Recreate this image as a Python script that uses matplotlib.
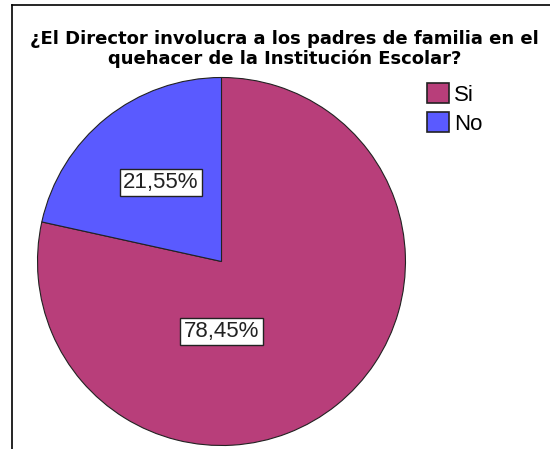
import matplotlib
matplotlib.use('Agg')
import matplotlib.pyplot as plt
from matplotlib.lines import Line2D

labels = ['Si', 'No']
values = [78.45, 21.55]
colors = ['#b83e7a', '#5a5aff']
pct_text = ['78,45%', '21,55%']
# label positions inside the pie (in radius units)
label_pos = [(0.0, -0.38), (-0.33, 0.43)]

fig = plt.figure(figsize=(5.5, 4.49), dpi=100)
fig.patch.set_facecolor('white')

# frame lines
fig.lines.extend([
    Line2D([12/550, 12/550], [0, 1 - 5/449], transform=fig.transFigure, color='black', lw=1.2),
    Line2D([12/550, 1], [1 - 5/449, 1 - 5/449], transform=fig.transFigure, color='black', lw=1.2),
])

fig.text(0.517, 1 - 49/449, '¿El Director involucra a los padres de familia en el\nquehacer de la Institución Escolar?',
         ha='center', va='center', fontsize=13, fontweight='bold', linespacing=1.05,
         family='DejaVu Sans')

ax = fig.add_axes([0.0682, 0.0078, 0.669, 0.8196])
wedges, _ = ax.pie(values, colors=colors, startangle=90, counterclock=False,
                   wedgeprops=dict(edgecolor='#222222', linewidth=0.8))
ax.set_xlim(-1, 1)
ax.set_ylim(-1, 1)
ax.set_aspect('auto')

for t, (x, y) in zip(pct_text, label_pos):
    ax.text(x, y, t, ha='center', va='center', fontsize=16, family='Liberation Sans',
            color='#222222',
            bbox=dict(boxstyle='square,pad=0.15', facecolor='white', edgecolor='#222222', linewidth=1))

leg = fig.legend(wedges, labels, loc='upper left', bbox_to_anchor=(427/550, 1 - 83/449),
                 frameon=False, handlelength=1.0, handleheight=1.0,
                 labelspacing=0.3, handletextpad=0.2, borderpad=0, borderaxespad=0,
                 prop={'family': 'Liberation Sans', 'size': 16})
for h in leg.legend_handles:
    h.set_edgecolor('#222222')
    h.set_linewidth(1.2)

fig.savefig('out.png', dpi=100)
